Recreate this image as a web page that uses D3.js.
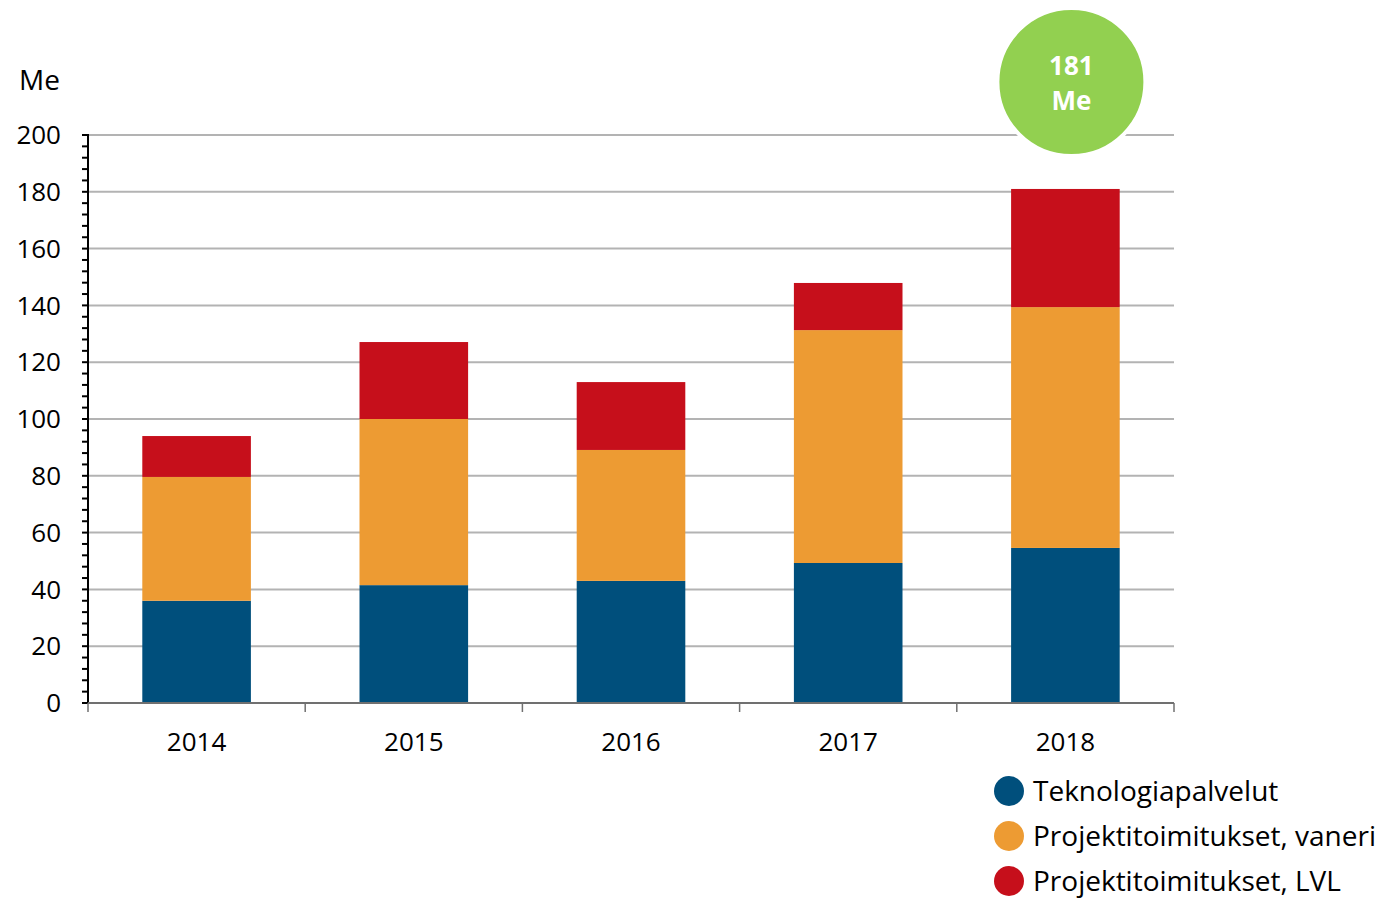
<!DOCTYPE html>
<html>
<head>
<meta charset="utf-8">
<script src="https://cdn.jsdelivr.net/npm/d3@7"></script>
<style>
  body { margin: 0; background: #fff; }
  text { font-family: "Open Sans", "Noto Sans", sans-serif; fill: #000; }
</style>
</head>
<body>
<svg id="chart" width="1384" height="898"></svg>
<script>
const years = ["2014", "2015", "2016", "2017", "2018"];
const teknologia = [36, 41.5, 43, 49.3, 54.6];
const vaneri = [43.6, 58.5, 46.1, 82, 84.8];
const lvl = [14.4, 27.1, 23.9, 16.6, 41.6];
const seriesNames = ["Teknologiapalvelut", "Projektitoimitukset, vaneri", "Projektitoimitukset, LVL"];
const colors = ["#004f7c", "#ed9b33", "#c60f1b"];
const yTicks = [0, 20, 40, 60, 80, 100, 120, 140, 160, 180, 200];
const totalLabel = ["181", "Me"];

const svg = d3.select("#chart");
const m = { left: 88, right: 1174, top: 135, bottom: 703 };

const rows = years.map((y, i) => ({ year: y, a: teknologia[i], b: vaneri[i], c: lvl[i] }));
const stack = d3.stack().keys(["a", "b", "c"])(rows);

const x = d3.scaleBand().domain(years).range([m.left, m.right]).paddingInner(0.5).paddingOuter(0.25);
const y = d3.scaleLinear().domain([0, 200]).range([m.bottom, m.top]);

// gridlines
svg.append("g").selectAll("line").data(yTicks.filter(t => t > 0)).join("line")
    .attr("x1", m.left).attr("x2", m.right)
    .attr("y1", d => y(d)).attr("y2", d => y(d))
    .attr("stroke", "#b3b3b3").attr("stroke-width", 2);

// bars
svg.append("g").selectAll("g").data(stack).join("g")
    .attr("fill", (d, i) => colors[i])
    .selectAll("rect").data(d => d).join("rect")
    .attr("x", d => x(d.data.year))
    .attr("width", x.bandwidth())
    .attr("y", d => y(d[1]))
    .attr("height", d => y(d[0]) - y(d[1]));

// y axis with minor ticks
const minor = d3.range(0, 201, 4);
svg.append("g").selectAll("line").data(minor).join("line")
    .attr("x1", m.left - 6).attr("x2", m.left)
    .attr("y1", d => y(d)).attr("y2", d => y(d))
    .attr("stroke", "#000").attr("stroke-width", 2);
svg.append("line").attr("x1", m.left).attr("x2", m.left)
    .attr("y1", y(200) - 1).attr("y2", m.bottom + 1)
    .attr("stroke", "#000").attr("stroke-width", 2);
svg.append("g").selectAll("text").data(yTicks).join("text")
    .attr("x", m.left - 27).attr("y", d => y(d)).attr("dy", "0.35em")
    .attr("text-anchor", "end").attr("font-size", 26)
    .text(d => d);
svg.append("text").attr("x", 19).attr("y", 90).attr("font-size", 28).text("Me");

// x axis
svg.append("line").attr("x1", m.left).attr("x2", m.right)
    .attr("y1", m.bottom).attr("y2", m.bottom)
    .attr("stroke", "#707070").attr("stroke-width", 2);
const bounds = years.map(yr => x(yr) - x.step() * x.paddingInner() / 2).concat([m.right]);
svg.append("g").selectAll("line").data(bounds).join("line")
    .attr("x1", d => d).attr("x2", d => d)
    .attr("y1", m.bottom).attr("y2", m.bottom + 9)
    .attr("stroke", "#707070").attr("stroke-width", 1.5);
svg.append("g").selectAll("text").data(years).join("text")
    .attr("x", d => x(d) + x.bandwidth() / 2).attr("y", 751)
    .attr("text-anchor", "middle").attr("font-size", 26)
    .text(d => d);

// total bubble
const cx = x("2018") + x.bandwidth() / 2 + 6;
svg.append("circle").attr("cx", cx).attr("cy", 82).attr("r", 74)
    .attr("fill", "#92d050").attr("stroke", "#fff").attr("stroke-width", 4);
svg.append("g").selectAll("text").data(totalLabel).join("text")
    .attr("x", cx).attr("y", (d, i) => 75 + i * 35)
    .attr("text-anchor", "middle").attr("font-size", 26).attr("font-weight", "bold")
    .style("fill", "#fff").text(d => d);

// legend
const lg = svg.append("g").selectAll("g").data(seriesNames).join("g")
    .attr("transform", (d, i) => `translate(1009,${791 + i * 45})`);
lg.append("circle").attr("r", 15).attr("fill", (d, i) => colors[i]);
lg.append("text").attr("x", 24).attr("dy", "0.35em").attr("font-size", 28).text(d => d);
</script>
</body>
</html>
